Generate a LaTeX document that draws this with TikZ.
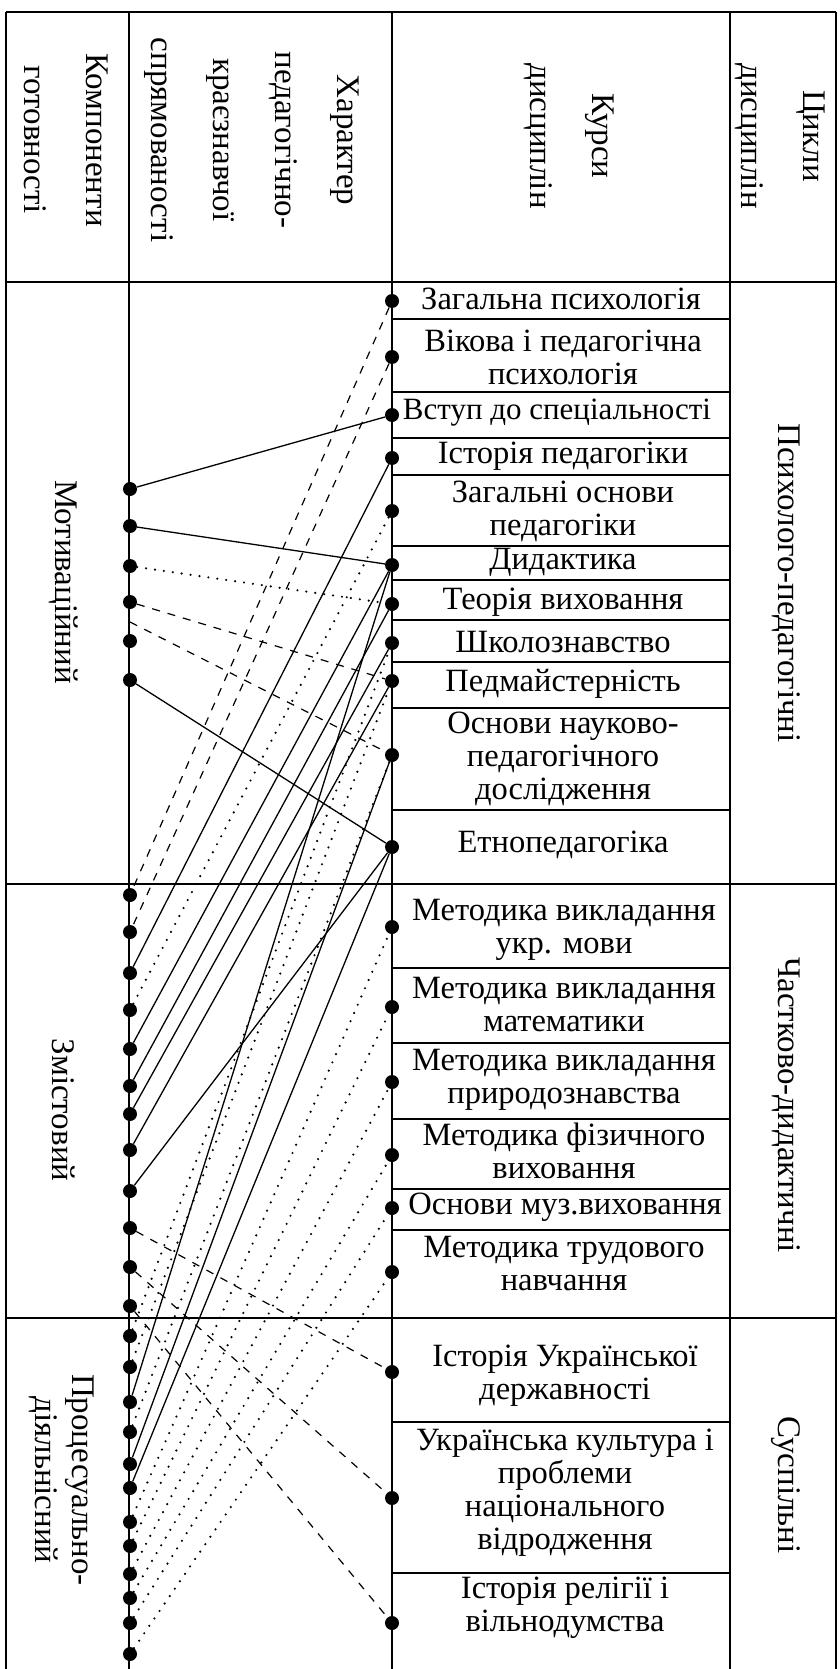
\documentclass[tikz,border=0pt]{standalone}
\usepackage{fontspec}
\setmainfont{Liberation Serif}
\begin{document}
\begin{tikzpicture}[x=1pt,y=-1pt,
  dot/.style={circle,fill=black,inner sep=0pt,minimum size=14pt},
  solidline/.style={line width=1.3pt},
  dashline/.style={line width=1.2pt,dash pattern=on 8pt off 8pt},
  dotline/.style={line width=2.4pt,dash pattern=on 0pt off 9pt,line cap=round},
  gridline/.style={line width=1.4pt},
  course/.style={align=center,inner sep=0pt,font=\fontsize{32.5}{33}\selectfont},
  head/.style={align=center,inner sep=0pt,rotate=-90,font=\fontsize{33}{62}\selectfont},
  side/.style={align=center,inner sep=0pt,rotate=-90,font=\fontsize{33}{37}\selectfont}]
\useasboundingbox (0,0) rectangle (839,1669);

% Table frame
\draw[gridline] (6,12) -- (836,12);
\draw[gridline] (6,282) -- (836,282);
\draw[gridline] (6,884) -- (836,884);
\draw[gridline] (6,1318) -- (836,1318);
\draw[gridline] (6,12) -- (6,1669);
\draw[gridline] (129,12) -- (129,1669);
\draw[gridline] (392,12) -- (392,1669);
\draw[gridline] (730,12) -- (730,1669);
\draw[gridline] (836,12) -- (836,1669);

% Course boxes
\foreach \y in {319,392,438,475,546,580,620,662,708,810,968,1043,1119,1189,1230,1422,1573}
  \draw[gridline] (392,\y) -- (730,\y);

% Header
\node[head] (hcomp) at (66,140) {Компоненти\\готовності};
\node[head] (hchar) at (252,140) {Характер\\педагогічно-\\краєзнавчої\\спрямованості};
\node[head] (hcour) at (569,136) {Курси\\дисциплін};
\node[head] (hcyc) at (780,136) {Цикли\\дисциплін};

% Components
\node[side] (motiv) at (64,582) {Мотиваційний};
\node[side] (zmist) at (64,1110) {Змістовий};
\node[side] (proc) at (62,1480) {Процесуально-\\діяльнісний};

% Cycles
\node[side] (cpsy) at (786,583) {Психолого-педагогічні};
\node[side] (cdid) at (786,1105) {Частково-дидактичні};
\node[side] (csoc) at (786,1485) {Суспільні};

% Courses
\node[course] (t1) at (561,299) {Загальна психологія};
\node[course] (t2) at (563,357) {Вікова і педагогічна\\психологія};
\node[course,font=\fontsize{31}{33}\selectfont] (t3) at (557,413) {Вступ до спеціальності};
\node[course] (t4) at (563,456) {Історія педагогіки};
\node[course] (t5) at (563,511) {Загальні основи\\педагогіки};
\node[course] (t6) at (563,562) {Дидактика};
\node[course] (t7) at (563,602) {Теорія виховання};
\node[course] (t8) at (563,642) {Школознавство};
\node[course] (t9) at (563,684) {Педмайстерність};
\node[course] (t10) at (563,759) {Основи науково-\\педагогічного\\дослідження};
\node[course] (t11) at (563,845) {Етнопедагогіка};
\node[course] (t12) at (564,930) {Методика викладання\\укр. мови};
\node[course] (t13) at (564,1005) {Методика викладання\\математики};
\node[course] (t14) at (564,1080) {Методика викладання\\природознавства};
\node[course] (t15) at (564,1151) {Методика фізичного\\виховання};
\node[course] (t16) at (565,1207) {Основи муз.виховання};
\node[course] (t17) at (564,1264) {Методика трудового\\навчання};
\node[course] (t18) at (565,1376) {Історія Української\\державності};
\node[course] (t19) at (565,1493) {Українська культура і\\проблеми\\національного\\відродження};
\node[course] (t20) at (565,1608) {Історія релігії і\\вільнодумства};

% Dots
\foreach \y [count=\i] in {301,357,415,458,511,565,604,643,681,755,847}
  \node[dot] (p\i) at (392,\y) {};
\foreach \y [count=\i] in {927,1007,1082,1155,1208,1272}
  \node[dot] (c\i) at (392,\y) {};
\foreach \y [count=\i] in {1372,1498,1623}
  \node[dot] (s\i) at (392,\y) {};
\foreach \y [count=\i] in {489,526,566,602,641,680}
  \node[dot] (m\i) at (130,\y) {};
\foreach \y [count=\i] in {895,932,973,1010,1049,1086,1114,1150,1191,1228,1267,1306}
  \node[dot] (z\i) at (130,\y) {};
\foreach \y [count=\i] in {1336,1367,1402,1432,1464,1488,1522,1546,1574,1598,1623,1654}
  \node[dot] (d\i) at (130,\y) {};
\coordinate (mx) at (130,622);

% Motivational links
\draw[solidline] (m1) -- (p3);
\draw[solidline] (m2) -- (p6);
\draw[dotline] (m3) -- (p7);
\draw[dashline] (m4) -- (p9);
\draw[dashline] (mx) -- (p10);
\draw[solidline] (m6) -- (p11);

% Content links
\draw[dashline] (p1) -- (z1);
\draw[dashline] (p2) -- (z2);
\draw[solidline] (z3) -- (p4);
\draw[dotline] (z4) -- (p5);
\draw[solidline] (z5) -- (p6);
\draw[solidline] (z6) -- (p7);
\draw[solidline] (z7) -- (p8);
\draw[solidline] (z8) -- (p9);
\draw[solidline] (z9) -- (p11);
\draw[dashline] (z10) -- (s1);
\draw[dashline] (z11) -- (s2);
\draw[dashline] (z12) -- (s3);

% Procedural links
\draw[dotline] (d1) -- (p8);
\draw[dotline] (d2) -- (p9);
\draw[solidline] (d3) -- (p6);
\draw[dotline] (d4) -- (p10);
\draw[solidline] (d5) -- (p10);
\draw[solidline] (d6) -- (p11);
\draw[dotline] (d7) -- (c1);
\draw[dotline] (d8) -- (c2);
\draw[dotline] (d9) -- (c3);
\draw[dotline] (d10) -- (c4);
\draw[dotline] (d11) -- (c5);
\draw[dotline] (d12) -- (c6);
\end{tikzpicture}
\end{document}
